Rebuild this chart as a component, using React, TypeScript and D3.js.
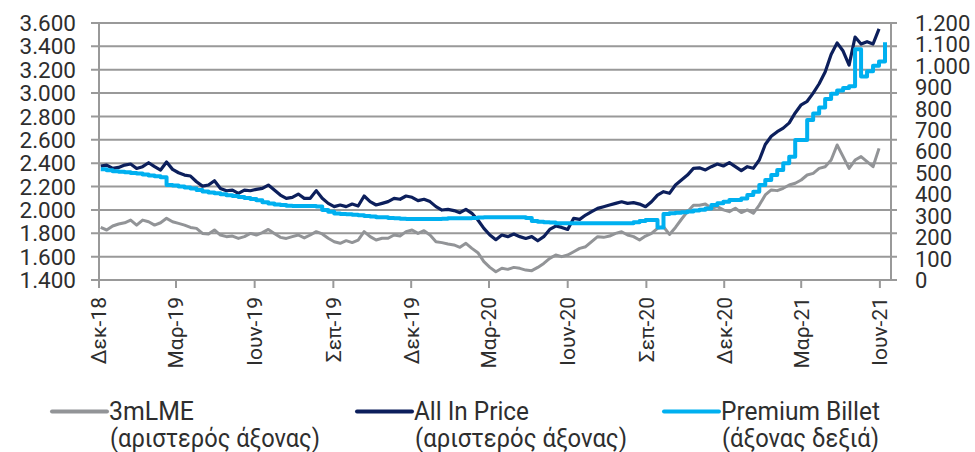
import { useEffect, useRef } from 'react';
import * as d3 from 'd3';

// weekly observations, first one on this date
const firstWeek = '2018-12-03';

// All In Price (left axis)
const allInPrice: (number | null)[] = [
  2375, 2384, 2355, 2364, 2384, 2393, 2355, 2370, 2404, 2370, 2341, 2410, 2347, 2318, 2298, 2290,
  2241, 2204, 2213, 2250, 2184, 2164, 2170, 2142, 2170, 2164, 2176, 2184, 2213, 2170, 2127, 2099,
  2107, 2136, 2099, 2099, 2165, 2099, 2056, 2028, 2042, 2028, 2050, 2033, 2119, 2071, 2042, 2056,
  2071, 2099, 2091, 2119, 2108, 2079, 2091, 2071, 2028, 1999, 2005, 1994, 1976, 2005, 1971, 1914,
  1842, 1785, 1745, 1785, 1771, 1793, 1771, 1756, 1771, 1736, 1771, 1833, 1862, 1850, 1833, 1928,
  1919, 1956, 1985, 2013, 2027, 2042, 2056, 2070, 2056, 2062, 2050, 2027, 2070, 2127, 2156, 2142,
  2213, 2256, 2298, 2355, 2360, 2342, 2370, 2393, 2376, 2405, 2370, 2336, 2370, 2356, 2427, 2560,
  2630, 2670, 2700, 2745, 2830, 2900, 2930, 3000, 3080, 3180, 3330, 3430, 3360, 3240, 3480, 3420,
  3440, 3420, 3550, null,
];

// 3mLME (left axis)
const lme3m: (number | null)[] = [
  1850, 1828, 1862, 1879, 1890, 1913, 1870, 1913, 1899, 1870, 1890, 1928, 1899, 1885, 1870, 1850,
  1842, 1799, 1793, 1828, 1785, 1771, 1776, 1756, 1771, 1799, 1785, 1805, 1833, 1799, 1765, 1756,
  1771, 1785, 1760, 1785, 1814, 1794, 1757, 1728, 1714, 1737, 1720, 1742, 1814, 1771, 1742, 1757,
  1757, 1785, 1777, 1814, 1828, 1799, 1822, 1785, 1728, 1720, 1708, 1700, 1680, 1714, 1671, 1634,
  1557, 1508, 1471, 1500, 1491, 1508, 1500, 1485, 1480, 1508, 1542, 1585, 1614, 1600, 1614, 1642,
  1671, 1685, 1728, 1771, 1765, 1776, 1799, 1813, 1785, 1771, 1742, 1776, 1799, 1842, 1856, 1790,
  1850, 1920, 1985, 2040, 2040, 2051, 2014, 2028, 2000, 1985, 2014, 1977, 2000, 1971, 2042, 2128,
  2171, 2165, 2185, 2213, 2228, 2256, 2299, 2313, 2356, 2370, 2427, 2556, 2456, 2356, 2427, 2456,
  2413, 2370, 2527, null,
];

// Premium Billet (right axis)
const premiumBillet: number[] = [
  517, 512, 508, 506, 503, 500, 497, 493, 488, 485, 480, 444, 441, 437, 432, 427,
  420, 413, 408, 405, 400, 396, 392, 388, 383, 378, 372, 363, 357, 353, 350, 347,
  345, 345, 345, 345, 343, 327, 319, 311, 308, 307, 305, 302, 299, 296, 293, 293,
  290, 288, 286, 285, 285, 285, 285, 285, 285, 286, 288, 288, 288, 288, 290, 292,
  293, 293, 293, 293, 293, 293, 293, 290, 276, 272, 270, 268, 265, 265, 265, 265,
  265, 265, 265, 265, 265, 265, 265, 265, 265, 270, 276, 280, 280, 245, 308, 312,
  314, 316, 320, 325, 328, 334, 350, 358, 365, 373, 373, 381, 397, 412, 443, 467,
  490, 514, 545, 575, 654, 654, 747, 778, 805, 845, 870, 885, 897, 905, 1078, 950,
  975, 1000, 1020, 1110,
];

const xTickDates = [
  '2018-12-01', '2019-03-01', '2019-06-01', '2019-09-01', '2019-12-01', '2020-03-01',
  '2020-06-01', '2020-09-01', '2020-12-01', '2021-03-01', '2021-06-01',
];
const xTickLabels = [
  'Δεκ-18', 'Μαρ-19', 'Ιουν-19', 'Σεπ-19', 'Δεκ-19', 'Μαρ-20',
  'Ιουν-20', 'Σεπ-20', 'Δεκ-20', 'Μαρ-21', 'Ιουν-21',
];
const leftTicks = [1400, 1600, 1800, 2000, 2200, 2400, 2600, 2800, 3000, 3200, 3400, 3600];
const rightTicks = [0, 100, 200, 300, 400, 500, 600, 700, 800, 900, 1000, 1100, 1200];

const legendItems = [
  { name: '3mLME', note: '(αριστερός άξονας)', color: '#929497', w1: 85, w2: 210 },
  { name: 'All In Price', note: '(αριστερός άξονας)', color: '#0c1f5c', w1: 115, w2: 212 },
  { name: 'Premium Billet', note: '(άξονας δεξιά)', color: '#00b0f0', w1: 159, w2: 157 },
];

export default function App() {
  const svgRef = useRef<SVGSVGElement>(null);

  useEffect(() => {
    const svg = d3.select(svgRef.current);
    svg.selectAll('*').remove();

    const left = 99, right = 891, top = 23, bottom = 280;
    const font = 'Roboto, sans-serif';
    const textColor = '#2e2e2e';
    const gridColor = '#999';

    const parse = d3.timeParse('%Y-%m-%d');
    const start = parse(firstWeek)!;
    const dates = premiumBillet.map((_, i) => d3.timeDay.offset(start, 7 * i));

    const x = d3.scaleTime()
      .domain([parse('2018-12-01')!, parse('2021-06-14')!])
      .range([left, right]);
    const yL = d3.scaleLinear().domain([1400, 3600]).range([bottom, top]);
    const yR = d3.scaleLinear().domain([0, 1200]).range([bottom, top]);

    const fmt = d3.formatLocale({ decimal: ',', thousands: '.', grouping: [3], currency: ['', ''] }).format(',');

    // gridlines (left axis scale)
    svg.append('g')
      .selectAll('line')
      .data(leftTicks)
      .join('line')
      .attr('x1', left - 8)
      .attr('x2', right + 6)
      .attr('y1', d => yL(d))
      .attr('y2', d => yL(d))
      .attr('stroke', gridColor)
      .attr('stroke-width', 2);

    // axis lines
    svg.append('line')
      .attr('x1', left).attr('x2', left).attr('y1', top).attr('y2', bottom + 1)
      .attr('stroke', gridColor).attr('stroke-width', 2);
    svg.append('line')
      .attr('x1', right).attr('x2', right).attr('y1', top).attr('y2', bottom + 1)
      .attr('stroke', gridColor).attr('stroke-width', 2);

    // x ticks
    const tickDates = xTickDates.map(d => parse(d)!);
    svg.append('g')
      .selectAll('line')
      .data(tickDates)
      .join('line')
      .attr('x1', d => x(d))
      .attr('x2', d => x(d))
      .attr('y1', bottom)
      .attr('y2', bottom + 8)
      .attr('stroke', gridColor)
      .attr('stroke-width', 2);

    // left labels
    svg.append('g')
      .selectAll('text')
      .data(leftTicks)
      .join('text')
      .attr('x', 76)
      .attr('y', d => yL(d))
      .attr('dy', '0.36em')
      .attr('text-anchor', 'end')
      .attr('font-family', font)
      .attr('font-size', 22.5)
      .attr('fill', textColor)
      .text(d => fmt(d));

    // right labels
    svg.append('g')
      .selectAll('text')
      .data(rightTicks)
      .join('text')
      .attr('x', 915)
      .attr('y', d => yR(d))
      .attr('dy', '0.36em')
      .attr('text-anchor', 'start')
      .attr('font-family', font)
      .attr('font-size', 22)
      .attr('fill', textColor)
      .text(d => fmt(d));

    // x labels, rotated
    svg.append('g')
      .selectAll('text')
      .data(tickDates)
      .join('text')
      .attr('transform', d => `translate(${x(d)}, 297) rotate(-90)`)
      .attr('dy', '0.35em')
      .attr('text-anchor', 'end')
      .attr('font-family', font)
      .attr('font-size', 21)
      .attr('fill', textColor)
      .text((_, i) => xTickLabels[i]);

    // series
    const lineL = d3.line<number | null>()
      .defined(d => d != null)
      .x((_, i) => x(dates[i]))
      .y(d => yL(d as number));
    const lineR = d3.line<number>()
      .curve(d3.curveStepAfter)
      .x((_, i) => x(dates[i]))
      .y(d => yR(d));

    svg.append('path')
      .attr('d', lineL(lme3m))
      .attr('fill', 'none')
      .attr('stroke', legendItems[0].color)
      .attr('stroke-width', 3)
      .attr('stroke-linejoin', 'round');
    svg.append('path')
      .attr('d', lineL(allInPrice))
      .attr('fill', 'none')
      .attr('stroke', legendItems[1].color)
      .attr('stroke-width', 3.2)
      .attr('stroke-linejoin', 'round');
    svg.append('path')
      .attr('d', lineR(premiumBillet))
      .attr('fill', 'none')
      .attr('stroke', legendItems[2].color)
      .attr('stroke-width', 4)
      .attr('stroke-linejoin', 'round');

    // legend
    const legendX = [52, 357, 664];
    const lg = svg.append('g')
      .selectAll('g')
      .data(legendItems)
      .join('g')
      .attr('transform', (_, i) => `translate(${legendX[i]}, 0)`);
    lg.append('line')
      .attr('x1', 0).attr('x2', 55)
      .attr('y1', 411.5).attr('y2', 411.5)
      .attr('stroke', d => d.color)
      .attr('stroke-width', 4)
      .attr('stroke-linecap', 'round');
    lg.append('text')
      .attr('x', 57).attr('y', 420)
      .attr('font-family', font).attr('font-size', 26).attr('fill', textColor)
      .attr('textLength', d => d.w1).attr('lengthAdjust', 'spacingAndGlyphs')
      .text(d => d.name);
    lg.append('text')
      .attr('x', 58).attr('y', 447)
      .attr('font-family', font).attr('font-size', 26).attr('fill', textColor)
      .attr('textLength', d => d.w2).attr('lengthAdjust', 'spacingAndGlyphs')
      .text(d => d.note);
  }, []);

  return (
    <svg
      ref={svgRef}
      width={975}
      height={452}
      style={{ position: 'absolute', left: 0, top: 0, background: '#fff' }}
    />
  );
}
